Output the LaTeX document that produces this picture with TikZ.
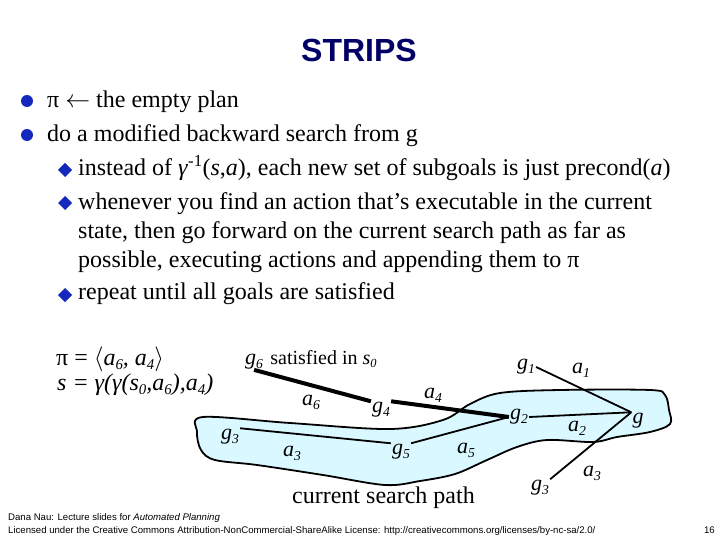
\documentclass[tikz,border=0pt]{standalone}
\usepackage{fontspec}
\setmainfont{Liberation Serif}
\setsansfont{Liberation Sans}
\usetikzlibrary{positioning,calc}
\definecolor{SLIDE-NAVY}{RGB}{0,0,102}
\definecolor{SLIDE-BLUE}{RGB}{20,40,190}
\definecolor{PATH-CYAN}{RGB}{218,248,255}
\newcommand{\lsub}[1]{\raisebox{-0.4ex}{\scalebox{0.62}{\itshape #1}}}
\newcommand{\gl}[1]{\textit{g}\lsub{#1}}
\newcommand{\al}[1]{\textit{a}\lsub{#1}}

\begin{document}
\begin{tikzpicture}[x=1pt, y=-1pt,
  bodytext/.style={anchor=base west, inner sep=0pt, font=\fontsize{24}{29}\selectfont},
  lbl/.style={inner sep=1pt, font=\fontsize{22}{22}\selectfont},
  footer/.style={anchor=base west, inner sep=0pt, font=\sffamily\fontsize{9.6}{11}\selectfont},
  thickedge/.style={line width=4pt},
  thinedge/.style={line width=1.8pt}]
  \useasboundingbox (0,0) rectangle (720,540);

  % Title
  \node[font=\sffamily\bfseries\fontsize{32}{32}\selectfont, SLIDE-NAVY] (title) at (359,50) {STRIPS};

  % Bullets
  \foreach \y in {101,135}
    \fill[SLIDE-BLUE] (27,\y) circle (6);
  \foreach \y in {170,203,295}
    \fill[SLIDE-BLUE] (65,\y-7) -- (72,\y) -- (65,\y+7) -- (58,\y) -- cycle;

  \node[bodytext] (line1) at (47,108) {π $\leftarrow$ the empty plan};
  \node[bodytext] (line2) at (47,142) {do a modified backward search from g};
  \node[bodytext] (line3) at (78,176) {instead of \textit{γ}\textsuperscript{-1}(\textit{s},\textit{a}), each new set of subgoals is just precond(\textit{a})};
  \node[bodytext] (line4) at (78,210) {whenever you find an action that’s executable in the current};
  \node[bodytext] (line5) at (78,238) {state, then go forward on the current search path as far as};
  \node[bodytext] (line6) at (78,267) {possible, executing actions and appending them to π};
  \node[bodytext] (line7) at (78,299) {repeat until all goals are satisfied};

  % Plan and state
  \node[bodytext, font=\itshape\fontsize{24}{29}\selectfont] (plan) at (56,365)
    {\upshape π = $\langle$\itshape\al{6}, \al{4}\upshape$\rangle$};
  \node[bodytext, font=\itshape\fontsize{24}{29}\selectfont] (state) at (57,390)
    {s = γ(γ(s\lsub{0},\al{6}),\al{4})};

  % Current search path
  \fill[PATH-CYAN, draw=black, line width=1.8pt] plot[smooth cycle, tension=0.55] coordinates {
    (203,417) (290,423) (390,429) (443,420) (470,404) (500,393) (560,390)
    (650,390) (665,395) (669,410) (670,424) (650,432) (617,437) (593,442)
    (547,440) (517,447) (487,460) (455,474) (420,481) (385,485) (323,475)
    (257,465) (215,460) (201,450) (197,432)};
  \node[bodytext] (pathlabel) at (292,503) {current search path};

  % Goals
  \node[lbl, anchor=base west] (g6) at (244,364) {\gl{6}};
  \node[lbl, right=0pt of g6.base east, anchor=base west, font=\fontsize{20}{20}\selectfont] (sat) {\ satisfied in \textit{s}\lsub{0}};
  \node[lbl] (g4) at (381,410) {\gl{4}};
  \node[lbl] (g2) at (519,417) {\gl{2}};
  \node[lbl] (g5) at (401,452) {\gl{5}};
  \node[lbl] (g3) at (230,437) {\gl{3}};
  \node[lbl] (g1) at (526,367) {\gl{1}};
  \node[lbl] (g3r) at (540,488) {\gl{3}};
  \node[lbl] (g) at (638,421) {\textit{g}};

  % Actions
  \draw[thickedge] (g6.south) -- (g4.north west);
  \draw[thickedge] (g4.north east) -- (g2.west);
  \draw[thinedge] (g3.north east) -- (g5.north west);
  \draw[thinedge] (g5.north east) -- (g2.west);
  \draw[thinedge] (g2.east) -- (g.north west);
  \draw[thinedge] (g1.east) -- (g.north west);
  \draw[thinedge] (g3r.north east) -- (g.north west);

  \node[lbl] (a6) at (311,402) {\al{6}};
  \node[lbl] (a4) at (433,395) {\al{4}};
  \node[lbl] (a3) at (292,453) {\al{3}};
  \node[lbl] (a5) at (466,450) {\al{5}};
  \node[lbl] (a2) at (577,428) {\al{2}};
  \node[lbl] (a1) at (581,370) {\al{1}};
  \node[lbl] (a3r) at (592,473) {\al{3}};

  % Footer
  \node[footer] (credit) at (8,520) {Dana Nau: Lecture slides for \textit{Automated Planning}};
  \node[footer] (licence) at (8,533) {Licensed under the Creative Commons Attribution-NonCommercial-ShareAlike License: http://creativecommons.org/licenses/by-nc-sa/2.0/};
  \node[footer, anchor=base east] (page) at (715,533) {16};
\end{tikzpicture}
\end{document}
